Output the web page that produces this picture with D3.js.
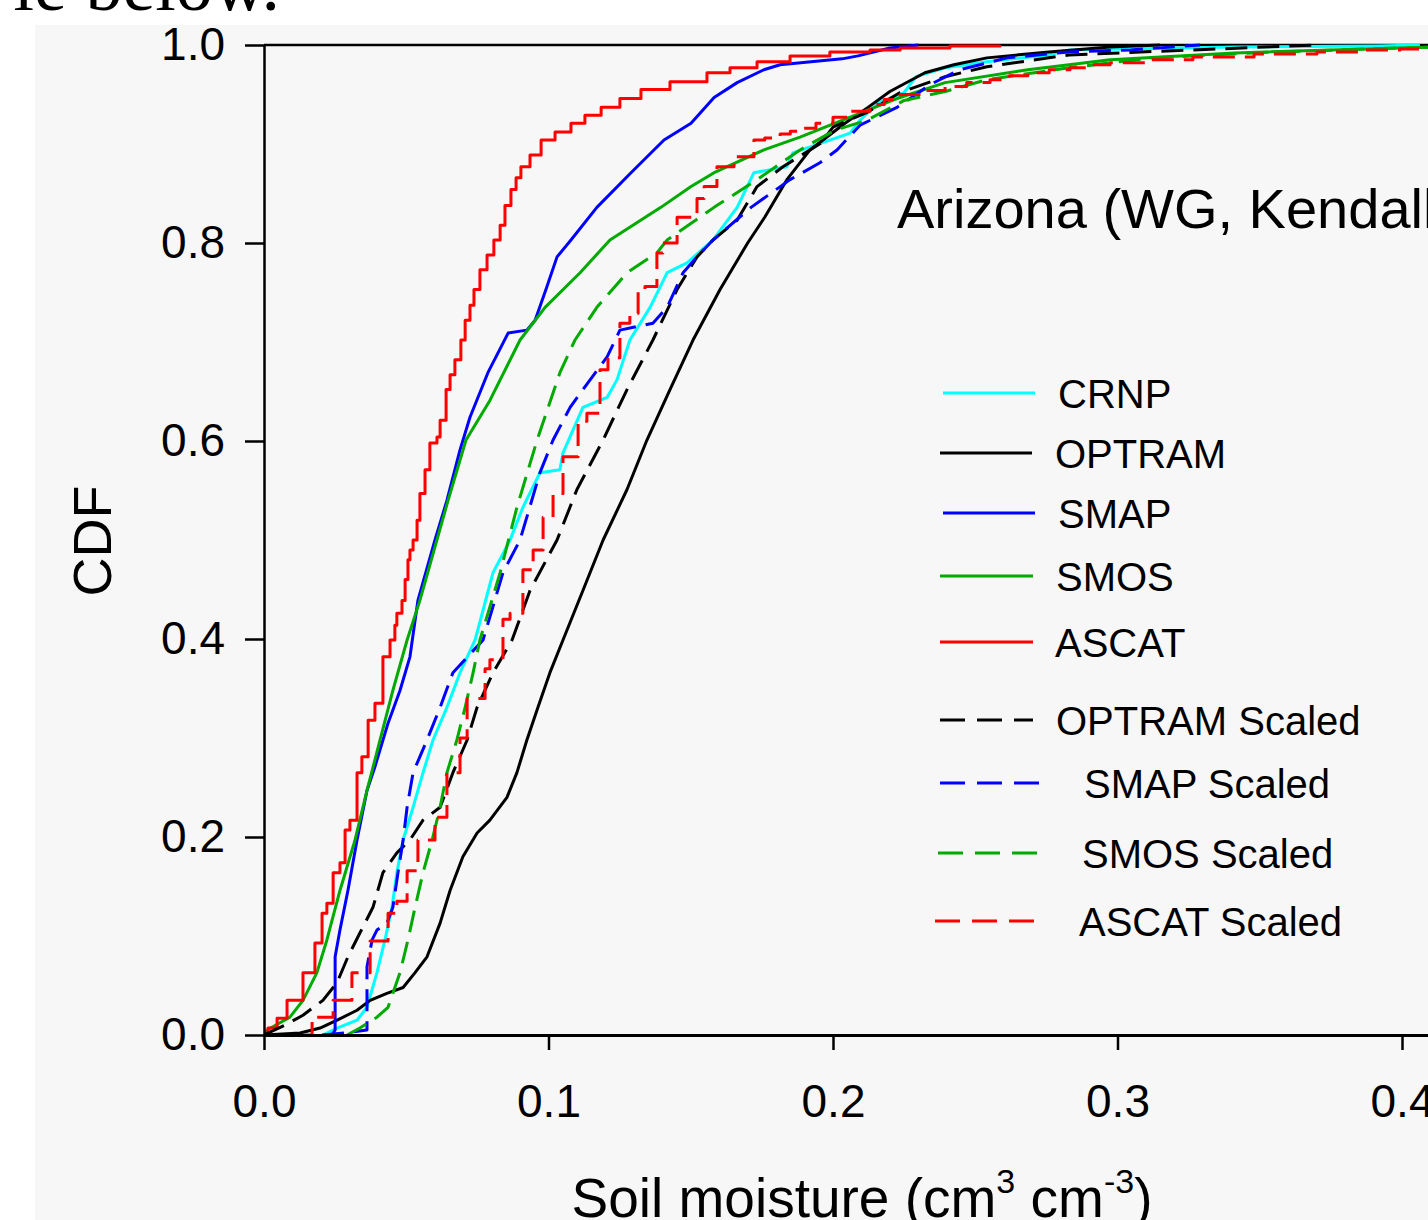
<!DOCTYPE html>
<html>
<head>
<meta charset="utf-8">
<script src="https://cdn.jsdelivr.net/npm/d3@7"></script>
<style>
  html, body { margin: 0; padding: 0; background: #ffffff; overflow: hidden; }
  svg { display: block; }
</style>
</head>
<body>
<svg id="chart" width="1428" height="1220"></svg>
<script>
// ---------------- DATA (soil moisture in cm3 cm-3, cumulative probability) ----------------
const seriesNames = ["CRNP", "OPTRAM", "SMAP", "SMOS", "ASCAT",
                     "OPTRAM Scaled", "SMAP Scaled", "SMOS Scaled", "ASCAT Scaled"];

const crnp = [[0.0207,0],[0.0257,0.007],[0.0327,0.015],[0.0362,0.028],[0.0397,0.063],[0.0425,0.096],
  [0.0450,0.129],[0.0467,0.164],[0.0489,0.197],[0.0524,0.230],[0.0559,0.265],[0.0594,0.298],
  [0.0643,0.331],[0.0689,0.366],[0.0742,0.399],[0.0805,0.467],[0.0865,0.500],[0.0910,0.533],
  [0.0970,0.568],[0.1040,0.571],[0.1051,0.588],[0.1121,0.634],[0.1206,0.644],[0.1241,0.662],
  [0.1286,0.702],[0.1357,0.735],[0.1417,0.770],[0.1487,0.780],[0.1578,0.803],[0.1663,0.836],
  [0.1722,0.871],[0.1838,0.877],[0.1859,0.891],[0.2060,0.911],[0.2095,0.924],[0.2162,0.942],
  [0.2250,0.952],[0.2292,0.968],[0.2394,0.977],[0.2541,0.983],[0.2759,0.990],[0.2830,0.995],
  [0.3413,0.998],[0.3919,0.999],[0.4063,1.0]];

const optram = [[0,0],[0.0127,0.002],[0.0197,0.007],[0.0257,0.015],[0.0327,0.025],[0.0373,0.035],
  [0.0432,0.042],[0.0489,0.048],[0.0531,0.063],[0.0573,0.079],[0.0619,0.113],[0.0654,0.146],
  [0.0699,0.180],[0.0749,0.204],[0.0794,0.217],[0.0854,0.240],[0.0889,0.265],[0.0924,0.298],
  [0.0963,0.331],[0.1005,0.366],[0.1051,0.399],[0.1121,0.449],[0.1192,0.500],[0.1276,0.551],
  [0.1346,0.601],[0.1427,0.652],[0.1508,0.702],[0.1603,0.753],[0.1700,0.800],[0.1760,0.826],
  [0.1838,0.864],[0.1919,0.894],[0.2042,0.921],[0.2123,0.937],[0.2200,0.953],[0.2323,0.972],
  [0.2425,0.980],[0.2541,0.987],[0.2759,0.993],[0.2974,0.998],[0.3149,1.0]];

const smap = [[0.0239,0],[0.0250,0.005],[0.0250,0.079],[0.0267,0.106],[0.0295,0.146],[0.0327,0.197],
  [0.0362,0.247],[0.0390,0.271],[0.0436,0.315],[0.0478,0.348],[0.0513,0.382],[0.0541,0.439],
  [0.0601,0.500],[0.0643,0.540],[0.0689,0.591],[0.0724,0.624],[0.0787,0.669],[0.0858,0.709],
  [0.0924,0.712],[0.0953,0.722],[0.0991,0.753],[0.1030,0.786],[0.1079,0.803],[0.1170,0.836],
  [0.1290,0.871],[0.1406,0.904],[0.1501,0.921],[0.1582,0.947],[0.1663,0.962],[0.1757,0.975],
  [0.1814,0.980],[0.2032,0.986],[0.2088,0.989],[0.2200,0.997],[0.2300,1.0]];

const smos = [[0,0],[0.0011,0.005],[0.0091,0.018],[0.0137,0.035],[0.0186,0.063],[0.0221,0.096],
  [0.0267,0.146],[0.0320,0.197],[0.0362,0.247],[0.0408,0.298],[0.0453,0.348],[0.0503,0.399],
  [0.0548,0.439],[0.0647,0.540],[0.0710,0.601],[0.0794,0.641],[0.0900,0.702],[0.0988,0.735],
  [0.1111,0.770],[0.1216,0.803],[0.1395,0.836],[0.1501,0.857],[0.1582,0.871],[0.1757,0.894],
  [0.1884,0.907],[0.2120,0.934],[0.2236,0.947],[0.2394,0.962],[0.2685,0.975],[0.2974,0.985],
  [0.3413,0.992],[0.3993,0.997],[0.4134,0.998]];

const ascat = [[0,0],[0.0014,0.007],[0.0046,0.017],[0.0081,0.035],[0.0137,0.063],[0.0179,0.093],
  [0.0204,0.123],[0.0221,0.133],[0.0243,0.164],[0.0267,0.174],[0.0285,0.207],[0.0302,0.217],
  [0.0327,0.265],[0.0344,0.281],[0.0366,0.318],[0.0390,0.335],[0.0418,0.382],[0.0443,0.399],
  [0.0460,0.414],[0.0467,0.426],[0.0485,0.439],[0.0496,0.460],[0.0506,0.480],[0.0513,0.490],
  [0.0524,0.500],[0.0538,0.520],[0.0548,0.547],[0.0566,0.571],[0.0583,0.598],[0.0608,0.604],
  [0.0619,0.621],[0.0640,0.652],[0.0654,0.667],[0.0671,0.682],[0.0692,0.702],[0.0707,0.722],
  [0.0724,0.737],[0.0738,0.753],[0.0759,0.773],[0.0784,0.788],[0.0808,0.803],[0.0830,0.818],
  [0.0847,0.838],[0.0868,0.854],[0.0886,0.866],[0.0903,0.877],[0.0935,0.889],[0.0974,0.904],
  [0.1023,0.912],[0.1079,0.921],[0.1128,0.929],[0.1185,0.937],[0.1251,0.946],[0.1325,0.955],
  [0.1427,0.963],[0.1557,0.972],[0.1638,0.977],[0.1733,0.983],[0.1849,0.989],[0.1989,0.993],
  [0.2130,0.995],[0.2236,0.997],[0.2411,0.999],[0.2587,1.0]];

const optramScaled = [[0,0],[0.0074,0.010],[0.0137,0.020],[0.0207,0.035],[0.0257,0.053],[0.0295,0.079],
  [0.0337,0.103],[0.0383,0.129],[0.0418,0.164],[0.0467,0.184],[0.0513,0.197],[0.0559,0.217],
  [0.0619,0.230],[0.0664,0.265],[0.0714,0.298],[0.0749,0.331],[0.0805,0.366],[0.0872,0.399],
  [0.0935,0.449],[0.1030,0.500],[0.1100,0.551],[0.1192,0.601],[0.1276,0.652],[0.1367,0.702],
  [0.1452,0.753],[0.1522,0.786],[0.1578,0.803],[0.1663,0.823],[0.1733,0.857],[0.1824,0.877],
  [0.1958,0.901],[0.2000,0.917],[0.2120,0.932],[0.2236,0.952],[0.2394,0.968],[0.2541,0.978],
  [0.2830,0.990],[0.3265,0.995],[0.3700,1.0]];

const smapScaled = [[0.0204,0],[0.0285,0.002],[0.0362,0.005],[0.0362,0.069],[0.0380,0.096],
  [0.0397,0.106],[0.0432,0.113],[0.0453,0.129],[0.0471,0.164],[0.0489,0.197],[0.0503,0.230],
  [0.0524,0.265],[0.0573,0.298],[0.0619,0.331],[0.0664,0.366],[0.0770,0.399],[0.0840,0.467],
  [0.0900,0.500],[0.0970,0.568],[0.1016,0.601],[0.1076,0.634],[0.1121,0.652],[0.1206,0.685],
  [0.1251,0.712],[0.1367,0.719],[0.1417,0.735],[0.1473,0.770],[0.1522,0.786],[0.1578,0.803],
  [0.1712,0.836],[0.1849,0.864],[0.1954,0.881],[0.2014,0.894],[0.2095,0.919],[0.2225,0.937],
  [0.2341,0.960],[0.2446,0.975],[0.2612,0.987],[0.2830,0.993],[0.3047,0.995],[0.3290,1.0]];

const smosScaled = [[0.0292,0],[0.0337,0.007],[0.0397,0.018],[0.0436,0.028],[0.0478,0.063],
  [0.0506,0.096],[0.0531,0.129],[0.0559,0.164],[0.0591,0.197],[0.0619,0.230],[0.0643,0.265],
  [0.0678,0.298],[0.0707,0.331],[0.0735,0.366],[0.0759,0.399],[0.0830,0.467],[0.0889,0.533],
  [0.0960,0.601],[0.1040,0.669],[0.1093,0.702],[0.1170,0.735],[0.1276,0.770],[0.1381,0.790],
  [0.1417,0.803],[0.1582,0.836],[0.1733,0.864],[0.1884,0.894],[0.2007,0.914],[0.2120,0.924],
  [0.2250,0.944],[0.2394,0.953],[0.2541,0.965],[0.2830,0.977],[0.3121,0.987],[0.3557,0.993],
  [0.3993,0.997],[0.4134,0.998]];

const ascatScaled = [[0.0137,0],[0.0169,0.018],[0.0243,0.035],[0.0309,0.063],[0.0373,0.095],
  [0.0436,0.123],[0.0467,0.135],[0.0503,0.166],[0.0541,0.197],[0.0601,0.220],[0.0643,0.265],
  [0.0689,0.300],[0.0714,0.340],[0.0777,0.370],[0.0794,0.379],[0.0840,0.420],[0.0865,0.426],
  [0.0910,0.470],[0.0946,0.490],[0.0981,0.523],[0.1016,0.547],[0.1051,0.584],[0.1104,0.620],
  [0.1135,0.628],[0.1181,0.672],[0.1209,0.684],[0.1251,0.719],[0.1286,0.729],[0.1315,0.753],
  [0.1339,0.756],[0.1381,0.790],[0.1402,0.800],[0.1452,0.826],[0.1522,0.845],[0.1547,0.857],
  [0.1592,0.877],[0.1652,0.887],[0.1722,0.904],[0.1760,0.906],[0.1814,0.910],[0.1850,0.913],
  [0.1884,0.916],[0.1940,0.921],[0.2000,0.927],[0.2060,0.933],[0.2130,0.940],[0.2180,0.945],
  [0.2236,0.950],[0.2310,0.954],[0.2394,0.958],[0.2470,0.962],[0.2552,0.965],[0.2620,0.969],
  [0.2685,0.972],[0.2760,0.975],[0.2833,0.977],[0.2900,0.980],[0.2974,0.982],[0.3120,0.985],
  [0.3265,0.988],[0.3480,0.991],[0.3701,0.993],[0.3850,0.995],[0.3993,0.996],[0.4134,0.997]];

const xTicks = [0, 0.1, 0.2, 0.3, 0.4];
const yTicks = [0, 0.2, 0.4, 0.6, 0.8, 1.0];

const seriesData = [crnp, optram, smap, smos, ascat, optramScaled, smapScaled, smosScaled, ascatScaled];
const seriesColor = ["#00ffff", "#000000", "#0000ff", "#00aa00", "#ff0000",
                     "#000000", "#0000ff", "#00aa00", "#ff0000"];
const seriesDashed = [false, false, false, false, false, true, true, true, true];
const seriesStep = [false, false, false, false, true, false, false, false, true];

// ---------------- LAYOUT ----------------
const W = 1428, H = 1220;
const svg = d3.select("#chart");
const FONT = "'Liberation Sans', Arial, sans-serif";

svg.append("rect").attr("x", 0).attr("y", 0).attr("width", W).attr("height", H).attr("fill", "#ffffff");
svg.append("rect").attr("x", 35).attr("y", 25).attr("width", W - 35).attr("height", H - 25).attr("fill", "#f7f7f7");

// cropped document text above the figure
svg.append("text").attr("x", 280).attr("y", 10).attr("text-anchor", "end")
  .attr("font-family", "'Liberation Serif', 'Times New Roman', serif").attr("font-size", 74)
  .attr("fill", "#000").text("le below.");

const x = d3.scaleLinear().domain([0, 0.5]).range([264, 264 + 2845 * 0.5]);
const y = d3.scaleLinear().domain([0, 1]).range([1035, 45]);

svg.append("defs").append("clipPath").attr("id", "plotclip")
  .append("rect").attr("x", 264).attr("y", 43).attr("width", 1500).attr("height", 994);

// top frame line
svg.append("line").attr("x1", 264).attr("x2", W + 10).attr("y1", y(1)).attr("y2", y(1))
  .attr("stroke", "#000").attr("stroke-width", 2.5);

// series
const lines = svg.append("g").attr("clip-path", "url(#plotclip)");
seriesData.forEach((d, i) => {
  const gen = d3.line().x(p => x(p[0])).y(p => y(p[1]))
    .curve(seriesStep[i] ? d3.curveStepAfter : d3.curveLinear);
  lines.append("path").datum(d).attr("d", gen)
    .attr("fill", "none").attr("stroke", seriesColor[i]).attr("stroke-width", 3)
    .attr("stroke-linejoin", "round")
    .attr("stroke-dasharray", seriesDashed[i] ? "22,10" : null);
});

// axes
const yAxis = d3.axisLeft(y).tickValues(yTicks).tickFormat(d3.format(".1f"))
  .tickSize(19).tickSizeOuter(0).tickPadding(20);
const gy = svg.append("g").attr("transform", "translate(264,0)").call(yAxis);
gy.select(".domain").attr("stroke-width", 2.5);
gy.selectAll(".tick line").attr("stroke-width", 2.5);
gy.selectAll("text").attr("font-family", FONT).attr("font-size", 46).attr("fill", "#000");

const xAxis = d3.axisBottom(x).tickValues(xTicks).tickFormat(d3.format(".1f"))
  .tickSize(15).tickSizeOuter(0).tickPadding(34);
const gx = svg.append("g").attr("transform", "translate(0,1035)").call(xAxis);
gx.select(".domain").attr("stroke-width", 3);
gx.selectAll(".tick line").attr("stroke-width", 2.5);
gx.selectAll("text").attr("font-family", FONT).attr("font-size", 46).attr("fill", "#000");

// axis titles
svg.append("text").attr("transform", "translate(111,541) rotate(-90)")
  .attr("text-anchor", "middle").attr("font-family", FONT).attr("font-size", 54)
  .attr("fill", "#000").text("CDF");

const xt = svg.append("text").attr("x", 862).attr("y", 1217).attr("text-anchor", "middle")
  .attr("font-family", FONT).attr("font-size", 55).attr("fill", "#000");
xt.append("tspan").text("Soil moisture (cm");
xt.append("tspan").attr("font-size", 34).attr("dy", -24).text("3");
xt.append("tspan").attr("dy", 24).text(" cm");
xt.append("tspan").attr("font-size", 34).attr("dy", -24).text("-3");
xt.append("tspan").attr("dy", 24).text(")");

// panel title
svg.append("text").attr("x", 897).attr("y", 228).attr("font-family", FONT).attr("font-size", 56)
  .attr("fill", "#000").text("Arizona (WG, Kendall)");

// legend
const legendRows = [
  {cy: 393, x1: 943, x2: 1035, tx: 1058},
  {cy: 453, x1: 940, x2: 1032, tx: 1055},
  {cy: 513, x1: 943, x2: 1035, tx: 1058},
  {cy: 576, x1: 940, x2: 1033, tx: 1056},
  {cy: 642, x1: 940, x2: 1033, tx: 1055},
  {cy: 720, x1: 940, x2: 1033, tx: 1056},
  {cy: 783, x1: 940, x2: 1045, tx: 1084},
  {cy: 853, x1: 938, x2: 1042, tx: 1082},
  {cy: 921, x1: 935, x2: 1040, tx: 1079}
];
const lg = svg.append("g");
seriesNames.forEach((name, i) => {
  const r = legendRows[i];
  lg.append("line").attr("x1", r.x1).attr("x2", r.x2).attr("y1", r.cy).attr("y2", r.cy)
    .attr("stroke", seriesColor[i]).attr("stroke-width", 3)
    .attr("stroke-dasharray", seriesDashed[i] ? "25,12" : null);
  lg.append("text").attr("x", r.tx).attr("y", r.cy + 14.5)
    .attr("font-family", FONT).attr("font-size", 40).attr("fill", "#000").text(name);
});
</script>
</body>
</html>
